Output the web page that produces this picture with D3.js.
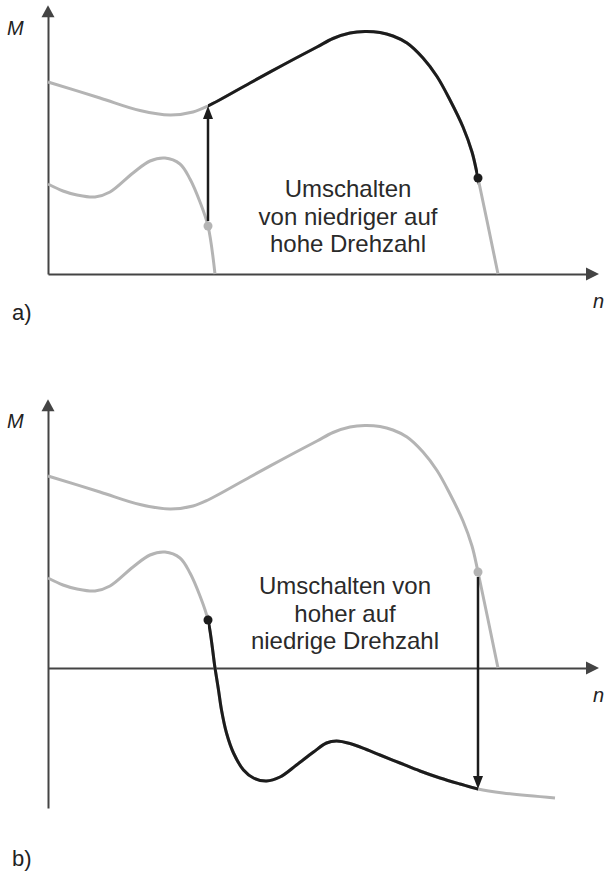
<!DOCTYPE html>
<html>
<head>
<meta charset="utf-8">
<script src="https://cdn.jsdelivr.net/npm/d3@7"></script>
<style>
  html, body { margin: 0; padding: 0; background: #fff; }
  svg { display: block; font-family: "Liberation Sans", Arial, sans-serif; }
</style>
</head>
<body>
<svg id="chart" width="605" height="875"></svg>
<script>
// Torque M over speed n for the two gears (arbitrary units)
const highGearN = [0, 10.4, 18.4, 24.4, 29, 32, 40.4, 47, 53.8, 57, 60.4, 63.4, 66.4, 69, 71.8, 75, 77.8, 80.4, 83, 84.8, 86, 90];
const highGearM = [76.8, 70.4, 65.4, 63.6, 64.8, 67.2, 76.4, 83.6, 90.8, 94.2, 96.4, 97, 96.6, 95.2, 92.4, 86.4, 79, 69.6, 58.8, 48.8, 38.4, 0];

const lowGearN = [0, 3, 5.8, 9.4, 12.4, 17, 20.4, 23.4, 26.4, 28.4, 30.4, 32, 33.4, 34.1, 34.7, 35.7, 37.1, 39.1, 41.1, 43.7, 46.4, 49.7, 53.1, 55.7, 57.7, 60.4, 63.7, 66.4, 70.4, 74.4, 78.4, 82.4, 86, 91, 101.4];
const lowGearM = [36, 33.2, 31.6, 30.8, 32.8, 40.4, 45.2, 46.4, 44, 38, 28.8, 19.2, 0, -8.8, -16.8, -26, -34, -40.8, -44, -45.2, -43.6, -38.8, -33.6, -30, -29.2, -30.2, -32.6, -34.8, -38, -41.2, -44, -46.4, -48.4, -50, -52];

// Speeds at which the gear change happens
const switchUpN = 32;
const switchDownN = 86;

// Annotation texts
const panelLabels = ["a)", "b)"];
const axisLabelM = "M";
const axisLabelN = "n";
const textUp = ["Umschalten", "von niedriger auf", "hohe Drehzahl"];
const textDown = ["Umschalten von", "hoher auf", "niedrige Drehzahl"];

const highGear = highGearN.map((n, i) => ({ n, M: highGearM[i] }));
const lowGear = lowGearN.map((n, i) => ({ n, M: lowGearM[i] }));
const valueAt = (curve, n) => curve.find(d => d.n === n).M;

const GRAY = "#b4b4b4";
const BLACK = "#1c1c1c";
const AXIS = "#444";

const svg = d3.select("#chart");

const x = d3.scaleLinear().domain([0, 110]).range([48, 598]);

function arrowHead(g, tipX, tipY, dir, len, half, color) {
  let pts;
  if (dir === "up") pts = [[tipX, tipY], [tipX - half, tipY + len], [tipX + half, tipY + len]];
  else if (dir === "down") pts = [[tipX, tipY], [tipX - half, tipY - len], [tipX + half, tipY - len]];
  else pts = [[tipX, tipY], [tipX - len, tipY - half], [tipX - len, tipY + half]];
  g.append("path").attr("d", "M" + pts.join("L") + "Z").attr("fill", color);
}

function drawPanel(opts) {
  const g = svg.append("g");
  const y = d3.scaleLinear().domain(opts.mDomain).range(opts.yRange);
  const line = d3.line().x(d => x(d.n)).y(d => y(d.M)).curve(d3.curveCatmullRom.alpha(0.5));

  // axes (no ticks, just the axis lines with arrowheads)
  const xAxisEnd = x(108);
  const yTop = y(opts.mDomain[1]);
  const xAxis = d3.axisBottom(d3.scaleLinear().domain([0, 1]).range([x(0), xAxisEnd]))
    .tickValues([]).tickSizeOuter(0);
  const yAxis = d3.axisLeft(d3.scaleLinear().domain([0, 1]).range([opts.yRange[0], yTop + 10]))
    .tickValues([]).tickSizeOuter(0);
  g.append("g").attr("transform", `translate(0,${y(0)})`).call(xAxis)
    .select(".domain").attr("stroke", AXIS).attr("stroke-width", 2);
  g.append("g").attr("transform", `translate(${x(0)},0)`).call(yAxis)
    .select(".domain").attr("stroke", AXIS).attr("stroke-width", 2);
  arrowHead(g, x(110.2), y(0), "right", 13, 6.5, AXIS);
  arrowHead(g, x(0), yTop, "up", 12, 6.5, AXIS);

  // clip for the active (black) part of a curve
  const clipId = "clip-" + opts.id;
  svg.append("defs").append("clipPath").attr("id", clipId)
    .append("rect")
    .attr("x", x(switchUpN)).attr("width", x(switchDownN) - x(switchUpN))
    .attr("y", 0).attr("height", 875);

  opts.curves.forEach(c => {
    g.append("path").attr("d", line(c.data)).attr("fill", "none")
      .attr("stroke", GRAY).attr("stroke-width", 3).attr("stroke-linejoin", "round");
    if (c.active) {
      g.append("path").attr("d", line(c.data)).attr("fill", "none")
        .attr("clip-path", `url(#${clipId})`)
        .attr("stroke", BLACK).attr("stroke-width", 3).attr("stroke-linejoin", "round");
    }
  });

  // transition arrow
  const a = opts.arrow;
  const y0 = y(a.from), y1 = y(a.to);
  const dirUp = y1 < y0;
  g.append("line")
    .attr("x1", x(a.n)).attr("x2", x(a.n))
    .attr("y1", y0 + (dirUp ? -5 : 5)).attr("y2", y1 + (dirUp ? 12 : -12))
    .attr("stroke", BLACK).attr("stroke-width", 2.5);
  arrowHead(g, x(a.n), y1, dirUp ? "up" : "down", 13, 5, BLACK);

  // dots
  opts.dots.forEach(d => {
    g.append("circle").attr("cx", x(d.n)).attr("cy", y(d.M)).attr("r", 4.5).attr("fill", d.color);
  });

  // labels
  g.append("text").attr("x", 7).attr("y", opts.mLabelY).attr("font-size", 20)
    .attr("font-style", "italic").attr("fill", "#222").text(axisLabelM);
  g.append("text").attr("x", 593).attr("y", y(0) + 34).attr("font-size", 20)
    .attr("font-style", "italic").attr("fill", "#222").text(axisLabelN);
  g.append("text").attr("x", 12).attr("y", opts.panelLabelY).attr("font-size", 22)
    .attr("fill", "#222").text(opts.panelLabel);

  const t = g.append("text").attr("text-anchor", "middle").attr("font-size", 24).attr("fill", "#2a2a2a");
  opts.text.forEach((s, i) => {
    t.append("tspan").attr("x", opts.textX).attr("y", opts.textY + i * 27.5).text(s);
  });
}

// a) up-shift: low gear -> high gear
drawPanel({
  id: "a",
  mDomain: [0, 107.5],
  yRange: [274, 274 - 2.5 * 107.5],
  curves: [
    { data: highGear, active: true },
    { data: lowGear.slice(0, lowGear.findIndex(d => d.M === 0) + 1), active: false }
  ],
  arrow: { n: switchUpN, from: valueAt(lowGear, switchUpN), to: valueAt(highGear, switchUpN) },
  dots: [
    { n: switchUpN, M: valueAt(lowGear, switchUpN), color: GRAY },
    { n: switchDownN, M: valueAt(highGear, switchDownN), color: BLACK }
  ],
  mLabelY: 35,
  panelLabel: panelLabels[0],
  panelLabelY: 320,
  text: textUp,
  textX: 348,
  textY: 197
});

// b) down-shift: high gear -> low gear
drawPanel({
  id: "b",
  mDomain: [-56, 107.5],
  yRange: [668 + 2.5 * 56, 668 - 2.5 * 107.5],
  curves: [
    { data: highGear, active: false },
    { data: lowGear, active: true }
  ],
  arrow: { n: switchDownN, from: valueAt(highGear, switchDownN), to: valueAt(lowGear, switchDownN) },
  dots: [
    { n: switchDownN, M: valueAt(highGear, switchDownN), color: GRAY },
    { n: switchUpN, M: valueAt(lowGear, switchUpN), color: BLACK }
  ],
  mLabelY: 428,
  panelLabel: panelLabels[1],
  panelLabelY: 866,
  text: textDown,
  textX: 345,
  textY: 594
});
</script>
</body>
</html>
